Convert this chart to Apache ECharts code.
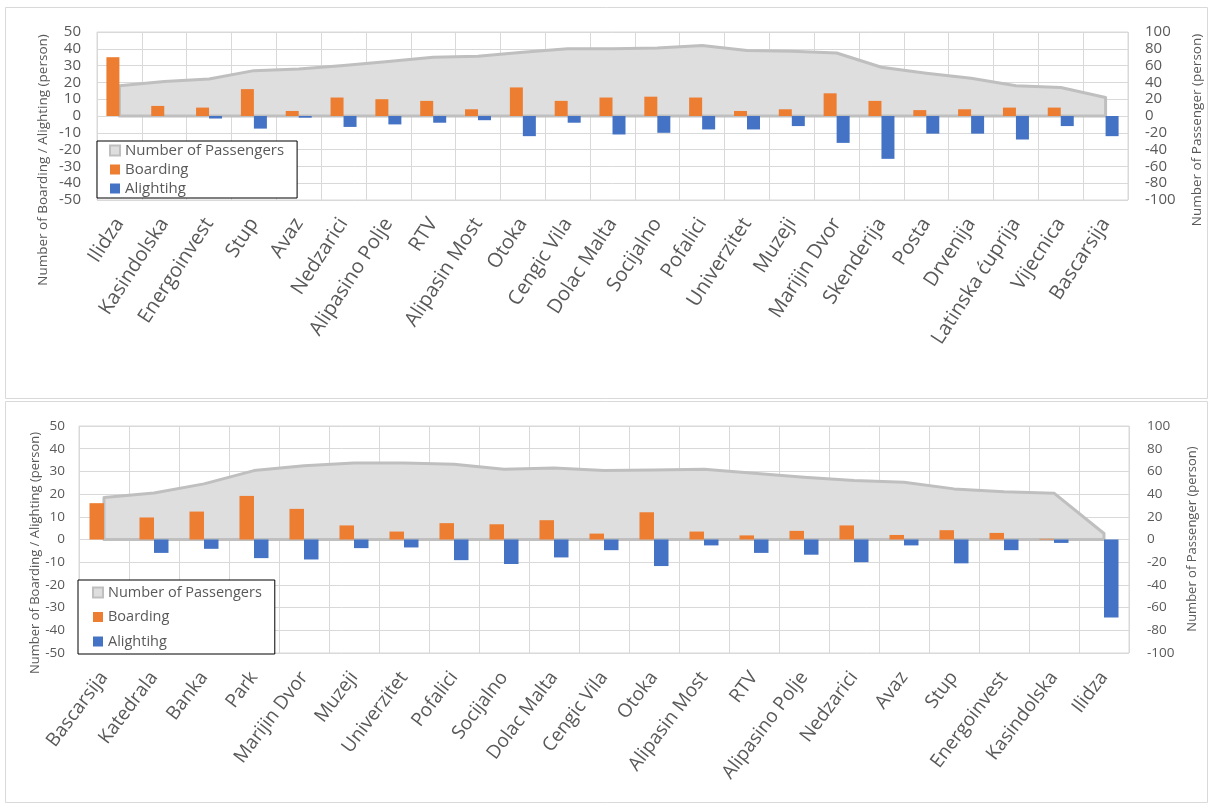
<!DOCTYPE html>
<html><head><meta charset="utf-8">
<script src="https://cdn.jsdelivr.net/npm/echarts@6/dist/echarts.min.js"></script>
<style>html,body{margin:0;padding:0;background:#fff}#c{width:1211px;height:805px}</style>
</head><body><div id="c"></div>
<script>
const topStations = ['Ilidza','Kasindolska','Energoinvest','Stup','Avaz','Nedzarici','Alipasino Polje','RTV','Alipasin Most','Otoka','Cengic Vila','Dolac Malta','Socijalno','Pofalici','Univerzitet','Muzeji','Marijin Dvor','Skenderija','Posta','Drvenija','Latinska ćuprija','Vijecnica','Bascarsija'];
const topBoarding = [35,6,5,16,3,11,10,9,4,17,9,11,11.5,11,3,4,13.5,9,3.5,4,5,5,0];
const topAlighting = [0,0,-1.5,-7.5,-1,-6.5,-5,-4,-2.5,-12,-4,-11,-10,-8,-8,-6,-16,-25.5,-10.5,-10.5,-14,-6,-12];
const topPassengers = [36,41,44,54,56,60,65,70,71,76,80,80,81,84,78,77,75,58,51,45,36,34,22];

const botStations = ['Bascarsija','Katedrala','Banka','Park','Marijin Dvor','Muzeji','Univerzitet','Pofalici','Socijalno','Dolac Malta','Cengic Vila','Otoka','Alipasin Most','RTV','Alipasino Polje','Nedzarici','Avaz','Stup','Energoinvest','Kasindolska','Ilidza'];
const botBoarding = [16,9.7,12.3,19.2,13.5,6.2,3.5,7.2,6.7,8.5,2.6,12,3.5,1.8,3.8,6.2,2,4.1,2.9,0.3,0];
const botAlighting = [0,-5.9,-4.1,-8.2,-8.8,-3.8,-3.5,-9.1,-10.8,-7.9,-4.7,-11.7,-2.6,-5.9,-6.7,-10,-2.6,-10.5,-4.7,-1.5,-34.4];
const botPassengers = [37,41,49,60.7,65,67.4,67.5,66.3,61.9,63,60.7,61.3,61.9,58.4,54.8,51.9,50.4,44.6,42,40.8,5.3];

const leftTicks = {min:-50, max:50, interval:10};
const rightTicks = {min:-100, max:100, interval:20};
const axisTitleLeft = 'Number of Boarding / Alighting (person)';
const axisTitleRight = 'Number of Passenger (person)';
const names = {pass:'Number of Passengers', board:'Boarding', alight:'Alightihg'};

const FONT = "'Open Sans', sans-serif";
const TXT = '#595959';
const GRID = '#d9d9d9';
const ORANGE = '#ED7D31', BLUE = '#4472C4', AREA = '#dedede', AREALINE = '#bfbfbf';

function areaRender(vals){
  return function(params, api){
    if (params.dataIndex !== 0) return null;
    const pts = [api.coord([0, 0])];
    for (let i = 0; i < vals.length; i++) pts.push(api.coord([i, vals[i]]));
    pts.push(api.coord([vals.length - 1, 0]));
    return {type:'polygon', shape:{points:pts}, style:{fill:AREA, stroke:AREALINE, lineWidth:3, lineJoin:'round'}};
  };
}

function xAx(gi, data, fs, margin, rot){
  return {gridIndex:gi, type:'category', data:data, boundaryGap:true,
    axisLine:{show:false}, axisTick:{show:false},
    splitLine:{show:true, interval:0, lineStyle:{color:GRID, width:1}},
    axisLabel:{interval:0, rotate:rot, fontSize:fs, color:TXT, fontFamily:FONT, margin:margin}};
}
function yAx(gi, t, pos, fs, margin, split){
  return {gridIndex:gi, type:'value', position:pos, min:t.min, max:t.max, interval:t.interval,
    axisLine:{show:false}, axisTick:{show:false},
    splitLine:{show:split, lineStyle:{color:GRID, width:1}},
    axisLabel:{fontSize:fs, color:TXT, fontFamily:FONT, margin:margin}};
}
function legendItems(){
  return [
    {name:names.pass, icon:'rect', itemStyle:{color:AREA, borderColor:AREALINE, borderWidth:2}},
    {name:names.board, icon:'rect'},
    {name:names.alight, icon:'rect'}
  ];
}
function seriesFor(xi, yl, yr, board, alight, pass, bw){
  return [
    {type:'custom', name:names.pass, xAxisIndex:xi, yAxisIndex:yr, z:1, silent:true,
      itemStyle:{color:AREA}, encode:{x:0, y:1},
      data:pass.map((v,i)=>[i,v]), renderItem:areaRender(pass)},
    {type:'bar', name:names.board, xAxisIndex:xi, yAxisIndex:yl, z:3, barWidth:bw, barGap:'0%',
      itemStyle:{color:ORANGE}, data:board},
    {type:'bar', name:names.alight, xAxisIndex:xi, yAxisIndex:yl, z:3, barWidth:bw, barGap:'0%',
      itemStyle:{color:BLUE}, data:alight}
  ];
}
function vTitle(text, x, y, fs){
  return {type:'text', x:x, y:y, rotation:Math.PI/2, z:10,
    style:{text:text, fill:TXT, font:fs+'px '+FONT, align:'center', verticalAlign:'middle'}};
}

const chart = echarts.init(document.getElementById('c'));
chart.setOption({
  animation:false,
  backgroundColor:'#fff',
  grid:[
    {left:97, right:83, top:32, height:168, show:true, borderColor:GRID, borderWidth:1},
    {left:79, right:82, top:426, height:227, show:true, borderColor:GRID, borderWidth:1}
  ],
  xAxis:[xAx(0, topStations, 20, 20, 57), xAx(1, botStations, 19, 21, 53)],
  yAxis:[
    yAx(0, leftTicks, 'left', 15, 16, true),
    yAx(0, rightTicks, 'right', 15, 17, false),
    yAx(1, leftTicks, 'left', 13.5, 14, true),
    yAx(1, rightTicks, 'right', 13.5, 18, false)
  ],
  legend:[
    {left:97, top:141, orient:'vertical', itemWidth:10, itemHeight:10, itemGap:4, padding:[2,13,2,12],
      borderColor:'#000', borderWidth:1, backgroundColor:'#fff', z:20,
      textStyle:{fontSize:15, color:TXT, fontFamily:FONT}, data:legendItems(), selectedMode:false},
    {left:78, top:580, orient:'vertical', itemWidth:10, itemHeight:10, itemGap:9.5, padding:[5,13,5,14],
      borderColor:'#000', borderWidth:1, backgroundColor:'#fff', z:20,
      textStyle:{fontSize:14.5, color:TXT, fontFamily:FONT}, data:legendItems(), selectedMode:false}
  ],
  graphic:[
    {type:'rect', shape:{x:5.5, y:7.5, width:1202, height:391}, style:{fill:'none', stroke:GRID, lineWidth:1}, z:-1},
    {type:'rect', shape:{x:5.5, y:401.5, width:1202, height:401}, style:{fill:'none', stroke:GRID, lineWidth:1}, z:-1},
    vTitle(axisTitleLeft, 43, 160, 13.5),
    vTitle(axisTitleRight, 1197, 130, 13.5),
    vTitle(axisTitleLeft, 35, 553, 13),
    vTitle(axisTitleRight, 1192, 539, 13)
  ],
  series:[].concat(
    seriesFor(0, 0, 1, topBoarding, topAlighting, topPassengers, 13),
    seriesFor(1, 2, 3, botBoarding, botAlighting, botPassengers, 14.5)
  )
});
</script></body></html>
